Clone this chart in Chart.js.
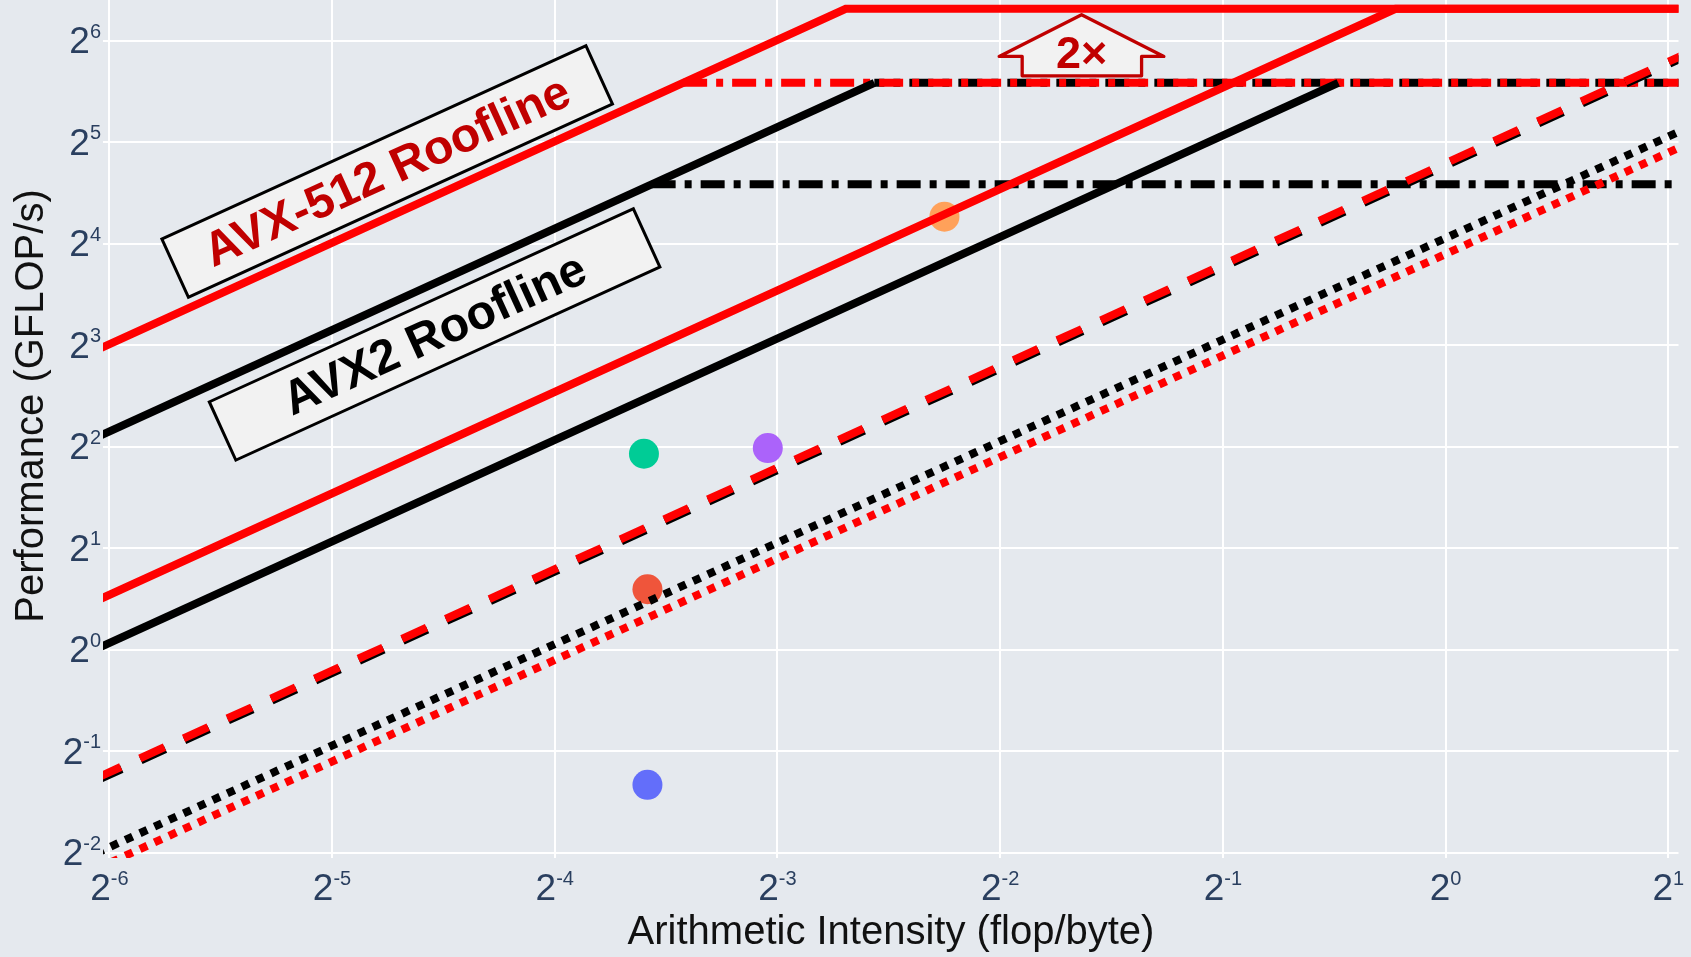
<!DOCTYPE html>
<html>
<head>
<meta charset="utf-8">
<script src="https://cdn.jsdelivr.net/npm/chart.js@4.4.1/dist/chart.umd.min.js"></script>
<style>
  html, body { margin: 0; padding: 0; background: #e5e9ee; }
  canvas { display: block; }
</style>
</head>
<body>
<canvas id="roofline" width="1691" height="957"></canvas>
<script>
// tick exponents (labels are 2^k)
const xTickExps = [-6, -5, -4, -3, -2, -1, 0, 1];
const yTickExps = [-2, -1, 0, 1, 2, 3, 4, 5, 6];

// roofline vertices: x = flop/byte, y = GFLOP/s
const avx512TopX = [0.015, 0.1546, 2.1];
const avx512TopY = [7.73, 79.6, 79.6];
const avx2TopX = [0.015, 0.169];
const avx2TopY = [4.26, 48];
const avx512MidX = [0.015, 0.856, 2.1];
const avx512MidY = [1.395, 79.6, 79.6];
const avx2MidX = [0.015, 0.716];
const avx2MidY = [1.005, 48];
const dashedX = [0.015, 2.1];
const dashedY = [0.4155, 58.2];
const dotBlackX = [0.015, 2.1];
const dotBlackY = [0.249, 34.9];
const dotRedX = [0.015, 2.1];
const dotRedY = [0.2235, 31.3];
const peak48RedX = [0.0932, 2.1];
const peak48BlackX = [0.169, 2.1];
const peak48Y = [48, 48];
const peak24X = [0.0845, 2.1];
const peak24Y = [24, 24];

// measured kernels
const kernelAI = [0.0825, 0.1213, 0.2102, 0.0834, 0.0834];
const kernelPerf = [3.81, 3.96, 19.24, 1.51, 0.397];
const kernelColors = ['#00cc96', '#ab63fa', '#ffa15a', '#ef553b', '#636efa'];

const xMin = 0.01532, xMax = 2.0646;
const yMin = 0.2409, yMax = 84.5;

const FONT = '"Liberation Sans", Arial, sans-serif';
const pts = (xs, ys) => xs.map((x, i) => ({ x: x, y: ys[i] }));

function line(xs, ys, color, width, dash, order, extra) {
    return Object.assign({
        data: pts(xs, ys),
        showLine: true,
        borderColor: color,
        borderWidth: width,
        borderDash: dash,
        borderCapStyle: 'butt',
        borderJoinStyle: 'miter',
        pointRadius: 0,
        pointHoverRadius: 0,
        fill: false,
        tension: 0,
        order: order,
        clip: 0
    }, extra || {});
}

const dashDot = [24, 9, 7, 9];

const bgPlugin = {
    id: 'bg',
    beforeDraw(chart) {
        const ctx = chart.ctx;
        ctx.save();
        ctx.fillStyle = '#e5e9ee';
        ctx.fillRect(0, 0, chart.width, chart.height);
        ctx.restore();
    }
};

// black edge under the red dashed line
const shadowPlugin = {
    id: 'shadow',
    beforeDatasetDraw(chart, args) {
        if (chart.data.datasets[args.index].shadow) {
            const ctx = chart.ctx;
            ctx.save();
            ctx.shadowColor = '#000';
            ctx.shadowOffsetX = 1;
            ctx.shadowOffsetY = 2;
            ctx.shadowBlur = 0;
        }
    },
    afterDatasetDraw(chart, args) {
        if (chart.data.datasets[args.index].shadow) chart.ctx.restore();
    }
};

function drawPow(ctx, exp, x, y, align) {
    const base = '2', sup = String(exp);
    ctx.font = '37px ' + FONT;
    const wb = ctx.measureText(base).width;
    ctx.font = '20px ' + FONT;
    const ws = ctx.measureText(sup).width;
    const total = wb + ws;
    const left = align === 'center' ? x - total / 2 : x - total;
    ctx.textAlign = 'left';
    ctx.textBaseline = 'alphabetic';
    ctx.font = '37px ' + FONT;
    ctx.fillText(base, left, y);
    ctx.font = '20px ' + FONT;
    ctx.fillText(sup, left + wb, y - 15.5);
}

const labelPlugin = {
    id: 'labels',
    afterDraw(chart) {
        const ctx = chart.ctx;
        const xs = chart.scales.x, ys = chart.scales.y;
        ctx.save();
        ctx.fillStyle = '#2a3f5f';
        xTickExps.forEach(e => drawPow(ctx, e, xs.getPixelForValue(Math.pow(2, e)), 900, 'center'));
        yTickExps.forEach(e => drawPow(ctx, e, 101, ys.getPixelForValue(Math.pow(2, e)) + 12.8, 'right'));

        ctx.fillStyle = '#111';
        ctx.font = '40px ' + FONT;
        ctx.textAlign = 'center';
        ctx.textBaseline = 'alphabetic';
        ctx.fillText('Arithmetic Intensity (flop/byte)', 891, 944);
        ctx.translate(32, 406);
        ctx.rotate(-Math.PI / 2);
        ctx.textBaseline = 'middle';
        ctx.fillText('Performance (GFLOP/s)', 0, 0);
        ctx.restore();
    }
};

function rotBox(ctx, cx, cy, angle, text, color) {
    ctx.save();
    ctx.translate(cx, cy);
    ctx.rotate(angle);
    ctx.fillStyle = '#f2f2f2';
    ctx.fillRect(-233, -32, 466, 64);
    ctx.lineWidth = 3;
    ctx.strokeStyle = '#000';
    ctx.strokeRect(-233, -32, 466, 64);
    ctx.fillStyle = color;
    ctx.font = 'bold 48px ' + FONT;
    ctx.textAlign = 'center';
    ctx.textBaseline = 'middle';
    ctx.fillText(text, 0, 2);
    ctx.restore();
}

const annotPlugin = {
    id: 'annot',
    afterDatasetsDraw(chart) {
        const ctx = chart.ctx;
        const xs = chart.scales.x, ys = chart.scales.y;
        // angle of a bandwidth (slope 1) line on screen
        const angle = Math.atan2(ys.getPixelForValue(2) - ys.getPixelForValue(1),
                                 xs.getPixelForValue(0.0625) - xs.getPixelForValue(0.03125));
        rotBox(ctx, xs.getPixelForValue(0.0371), ys.getPixelForValue(26.2), angle, 'AVX-512 Roofline', '#c00000');
        rotBox(ctx, xs.getPixelForValue(0.0430), ys.getPixelForValue(8.61), angle, 'AVX2 Roofline', '#000');

        // 2x arrow between the two peaks
        const ax = xs.getPixelForValue(0.3221);
        const top = ys.getPixelForValue(79.6) + 6;
        const bot = ys.getPixelForValue(48) - 7;
        const wing = top + 41.7;
        ctx.save();
        ctx.beginPath();
        ctx.moveTo(ax, top);
        ctx.lineTo(ax + 82.3, wing);
        ctx.lineTo(ax + 60, wing);
        ctx.lineTo(ax + 60, bot);
        ctx.lineTo(ax - 59.4, bot);
        ctx.lineTo(ax - 59.4, wing);
        ctx.lineTo(ax - 82.4, wing);
        ctx.closePath();
        ctx.fillStyle = '#f2f2f2';
        ctx.fill();
        ctx.lineWidth = 3.3;
        ctx.lineJoin = 'round';
        ctx.strokeStyle = '#c00000';
        ctx.stroke();
        ctx.fillStyle = '#c00000';
        ctx.font = 'bold 45px ' + FONT;
        ctx.textAlign = 'center';
        ctx.textBaseline = 'alphabetic';
        ctx.fillText('2×', ax, top + 53.3);
        ctx.restore();
    }
};

new Chart(document.getElementById('roofline'), {
    type: 'scatter',
    data: {
        datasets: [
            line(dashedX, dashedY, '#ff0000', 8, [27, 21], 1, { shadow: true }),
            line(dotRedX, dotRedY, '#ff0000', 8, [8, 8], 2),
            line(dotBlackX, dotBlackY, '#000000', 8, [8, 8], 3),
            line(avx512TopX, avx512TopY, '#ff0000', 8, [], 4),
            line(avx512MidX, avx512MidY, '#ff0000', 8, [], 4),
            line(avx2TopX, avx2TopY, '#000000', 8, [], 5),
            line(avx2MidX, avx2MidY, '#000000', 8, [], 5),
            line(peak48RedX, peak48Y, '#ff0000', 8, dashDot, 6),
            line(peak48BlackX, peak48Y, '#000000', 8, dashDot, 7, { borderDashOffset: 14 }),
            line(peak24X, peak24Y, '#000000', 8, dashDot, 8),
            {
                data: pts(kernelAI, kernelPerf),
                showLine: false,
                pointRadius: 15,
                pointHoverRadius: 15,
                pointBorderWidth: 0,
                pointBackgroundColor: kernelColors,
                order: 10
            }
        ]
    },
    options: {
        responsive: false,
        animation: false,
        devicePixelRatio: 1,
        layout: { autoPadding: false, padding: { left: 103, right: 12.5, top: 0, bottom: 99 } },
        plugins: { legend: { display: false }, tooltip: { enabled: false } },
        scales: {
            x: {
                type: 'logarithmic', min: xMin, max: xMax,
                afterBuildTicks: s => { s.ticks = xTickExps.map(e => ({ value: Math.pow(2, e) })); },
                afterFit: s => { s.height = 0; },
                ticks: { display: false },
                grid: { color: '#ffffff', lineWidth: 2, drawTicks: false },
                border: { display: false }
            },
            y: {
                type: 'logarithmic', min: yMin, max: yMax,
                afterBuildTicks: s => { s.ticks = yTickExps.map(e => ({ value: Math.pow(2, e) })); },
                afterFit: s => { s.width = 0; },
                ticks: { display: false },
                grid: { color: '#ffffff', lineWidth: 2, drawTicks: false },
                border: { display: false }
            }
        }
    },
    plugins: [bgPlugin, shadowPlugin, labelPlugin, annotPlugin]
});
</script>
</body>
</html>
